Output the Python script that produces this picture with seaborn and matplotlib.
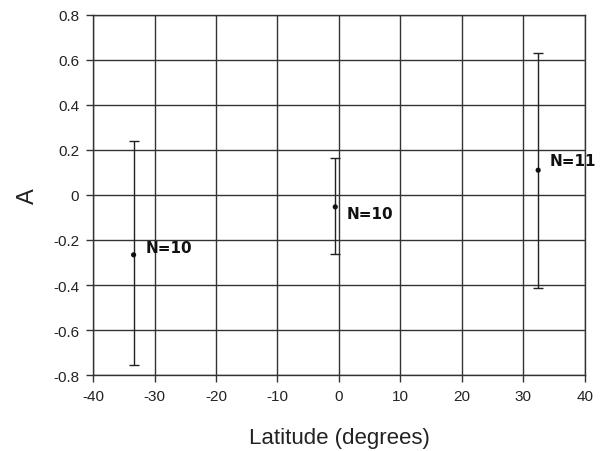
import seaborn as sns
import matplotlib.pyplot as plt
import pandas as pd

# data
latitude = [-33.4, -0.6, 32.4]
a_mean = [-0.266, -0.053, 0.110]
a_low = [-0.756, -0.261, -0.415]
a_high = [0.240, 0.163, 0.632]
n_labels = ["N=10", "N=10", "N=11"]
label_offsets = [(9, 5), (8, -5), (8, 7)]

df = pd.DataFrame({"Latitude": latitude, "A": a_mean, "low": a_low, "high": a_high})

sns.set_theme(style="white")
plt.rcParams["font.family"] = ["Liberation Sans", "DejaVu Sans"]

fig = plt.figure(figsize=(6.08, 4.52), dpi=100)
ax = fig.add_axes([0.153, 0.168, 0.809, 0.797])

yerr = [df["A"] - df["low"], df["high"] - df["A"]]
ax.errorbar(df["Latitude"], df["A"], yerr=yerr, fmt="none", ecolor="#222222",
            elinewidth=1, capsize=3.7, capthick=1, zorder=3)
sns.scatterplot(data=df, x="Latitude", y="A", color="#111111", s=14,
                edgecolor="none", zorder=4, ax=ax)

for x, y, t, off in zip(latitude, a_mean, n_labels, label_offsets):
    ax.annotate(t, (x, y), xytext=off, textcoords="offset points", ha="left",
                va="center", fontsize=11, fontweight="bold", family="DejaVu Sans",
                color="#111111")

ax.set_xlim(-40, 40)
ax.set_ylim(-0.8, 0.8)
ax.set_xticks(range(-40, 41, 10))
ax.set_yticks([-0.8, -0.6, -0.4, -0.2, 0, 0.2, 0.4, 0.6, 0.8])
ax.set_yticklabels(["-0.8", "-0.6", "-0.4", "-0.2", "0", "0.2", "0.4", "0.6", "0.8"])
ax.set_xticklabels([str(v) for v in range(-40, 41, 10)])
ax.grid(True, color="#333333", linewidth=1)
ax.set_axisbelow(True)
for s in ax.spines.values():
    s.set_color("#333333")
    s.set_linewidth(1)
ax.tick_params(axis="both", direction="out", length=5, width=1, color="#333333",
               labelsize=11, labelcolor="#222222", pad=5, left=True, bottom=True)
ax.set_xlabel("Latitude (degrees)", fontsize=16, labelpad=17, color="#222222")
ax.set_ylabel("A", fontsize=17, labelpad=10, color="#222222")

fig.savefig("out.png", dpi=100)
